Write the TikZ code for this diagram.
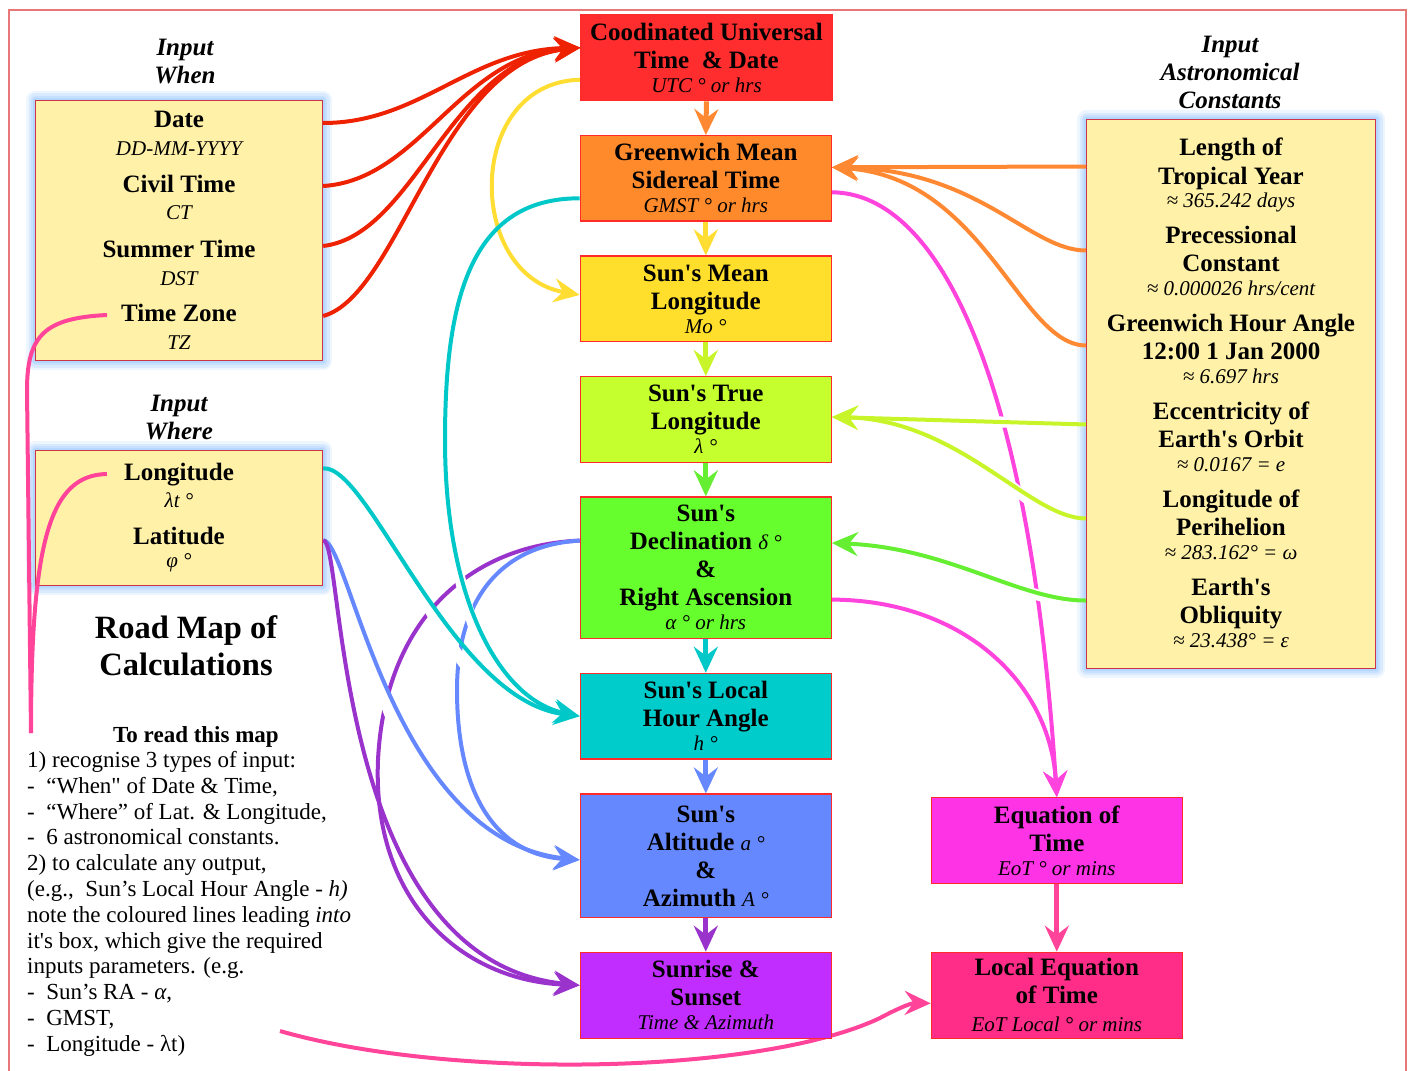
\documentclass[tikz,border=0pt]{standalone}
\usepackage{fontspec}
\setmainfont{Liberation Serif}[Ligatures=TeXOff]
\usetikzlibrary{arrows.meta}
\definecolor{boxedge}{HTML}{FF2B2B}
\definecolor{cRed}{HTML}{FF2D2D}\definecolor{lRed}{HTML}{EE2200}
\definecolor{cOrange}{HTML}{FF8A2B}\definecolor{lOrange}{HTML}{FF8833}
\definecolor{cYellow}{HTML}{FFDF2B}\definecolor{lYellow}{HTML}{FFDD33}
\definecolor{cLime}{HTML}{C5FF2D}\definecolor{lLime}{HTML}{C8F52A}
\definecolor{cGreen}{HTML}{66FF2D}\definecolor{lGreen}{HTML}{66EE33}
\definecolor{cCyan}{HTML}{00CCCC}\definecolor{lCyan}{HTML}{00C8C8}
\definecolor{cBlue}{HTML}{6688FF}\definecolor{lBlue}{HTML}{6688FF}
\definecolor{cPurple}{HTML}{C22DFF}\definecolor{lPurple}{HTML}{9933CC}
\definecolor{cMag}{HTML}{FF33E6}\definecolor{lMag}{HTML}{FF44DD}
\definecolor{cPink}{HTML}{FF2D88}\definecolor{lPink}{HTML}{FF4499}
\definecolor{inFill}{HTML}{FFF2A8}\definecolor{inEdge}{HTML}{CC3344}
\definecolor{glowc}{HTML}{8CC0FF}\definecolor{frameC}{HTML}{E87878}
\newcommand\rmsub[1]{{\normalfont\itshape\fontsize{21}{24}\selectfont #1}}
\pgfdeclarelayer{bg}\pgfdeclarelayer{fg}\pgfsetlayers{bg,main,fg}
\begin{document}
\begin{tikzpicture}[x=1pt,y=-1pt,
 rmBox/.style={draw=boxedge, line width=1.2pt, minimum width=251pt, inner sep=0pt, align=center, font=\bfseries\fontsize{25}{28}\selectfont},
 rmIn/.style={draw=inEdge, line width=1pt, fill=inFill, inner sep=0pt},
 rmLab/.style={inner sep=0pt, text height=17pt, text depth=5pt, font=\bfseries\fontsize{25}{28}\selectfont},
 rmSub/.style={inner sep=0pt, text height=14pt, text depth=4pt, font=\itshape\fontsize{21}{24}\selectfont},
 rmHead/.style={inner sep=0pt, align=center, font=\bfseries\itshape\fontsize{25}{28}\selectfont},
 rmTip/.style={-{Stealth[length=26pt,width=24pt,inset=9pt]}},
 rmLink/.style={line width=4pt, rmTip},
 rmPlain/.style={line width=4pt},
 rmVert/.style={line width=5pt, rmTip},
 rmHalo/.style={draw=white, line width=11pt},
]
\useasboundingbox (0,0) rectangle (1412,1070);
\draw[frameC, line width=1.5pt] (9,1080) -- (9,10) -- (1406,10) -- (1406,1080);

% ---------- calculation boxes ----------
\node[rmBox, fill=cRed, minimum height=86pt] (utc) at (706.5,57.7) {Coodinated Universal\\Time\ \ \& Date\\[-4pt]\rmsub{UTC ° or hrs}};
\node[rmBox, fill=cOrange, minimum height=85.3pt] (gmst) at (705.8,178.3) {Greenwich Mean\\Sidereal Time\\[-4pt]\rmsub{GMST ° or hrs}};
\node[rmBox, fill=cYellow, minimum height=85.7pt] (mean) at (705.8,298.9) {Sun's Mean\\Longitude\\[-4pt]\rmsub{Mo °}};
\node[rmBox, fill=cLime, minimum height=85.6pt] (true) at (705.8,419.5) {Sun's True\\Longitude\\[-4pt]\rmsub{λ °}};
\node[rmBox, fill=cGreen, minimum height=141.3pt] (decl) at (705.8,567.6) {Sun's\\Declination \rmsub{δ °}\\\&\\Right Ascension\\[-4pt]\rmsub{α ° or hrs}};
\node[rmBox, fill=cCyan, minimum height=85.7pt] (lha) at (705.8,716.2) {Sun's Local\\Hour Angle\\[-4pt]\rmsub{h °}};
\node[rmBox, fill=cBlue, minimum height=123.7pt] (alt) at (705.8,855.9) {Sun's\\Altitude \rmsub{a °}\\\&\\Azimuth \rmsub{A °}};
\node[rmBox, fill=cPurple, minimum height=86pt] (sunrise) at (705.8,995.3) {Sunrise \&\\Sunset\\[-4pt]\rmsub{Time \& Azimuth}};
\node[rmBox, fill=cMag, minimum height=85.6pt] (eot) at (1056.8,840.5) {Equation of\\Time\\[-4pt]\rmsub{EoT ° or mins}};
\node[rmBox, fill=cPink, minimum height=86pt] (loceot) at (1056.8,995.3) {Local Equation\\of Time\\[0pt]\rmsub{EoT Local ° or mins}};

% ---------- input boxes ----------
\node[rmIn, minimum width=286.7pt, minimum height=260pt] (when) at (179.3,230.5) {};
\node[rmIn, minimum width=286.7pt, minimum height=134.7pt] (where) at (179.3,518.3) {};
\node[rmIn, minimum width=288.7pt, minimum height=548pt] (consts) at (1231.3,394) {};

\node[rmHead] (hwhen) at (185,62) {Input\\When};
\node[rmHead] (hwhere) at (179,417) {Input\\Where};
\node[rmHead] (hconst) at (1230,72) {Input\\Astronomical\\Constants};

\node[rmLab] (date) at (179,122) {Date};
\node[rmSub] (ddmm) at (179,150) {DD-MM-YYYY};
\node[rmLab] (civil) at (179,186) {Civil Time};
\node[rmSub] (ct) at (179,214) {CT};
\node[rmLab] (summer) at (179,251) {Summer Time};
\node[rmSub] (dst) at (179,280) {DST};
\node[rmLab] (tzone) at (179,315) {Time Zone};
\node[rmSub] (tz) at (179,344) {TZ};

\node[rmLab] (long) at (179,474) {Longitude};
\node[rmSub] (lt) at (179,502) {λt °};
\node[rmLab] (lat) at (179,538) {Latitude};
\node[rmSub] (phi) at (179,562) {φ °};

\node[rmLab] (k1) at (1231,149) {Length of};
\node[rmLab] (k2) at (1231,178) {Tropical Year};
\node[rmSub] (k3) at (1231,202) {≈ 365.242 days};
\node[rmLab] (k4) at (1231,237) {Precessional};
\node[rmLab] (k5) at (1231,265) {Constant};
\node[rmSub] (k6) at (1231,290) {≈ 0.000026 hrs/cent};
\node[rmLab] (k7) at (1231,325) {Greenwich Hour Angle};
\node[rmLab] (k8) at (1231,353) {12:00 1 Jan 2000};
\node[rmSub] (k9) at (1231,378) {≈ 6.697 hrs};
\node[rmLab] (k10) at (1231,413) {Eccentricity of};
\node[rmLab] (k11) at (1231,441) {Earth's Orbit};
\node[rmSub] (k12) at (1231,466) {≈ 0.0167 = e};
\node[rmLab] (k13) at (1231,501) {Longitude of};
\node[rmLab] (k14) at (1231,529) {Perihelion};
\node[rmSub] (k15) at (1231,554) {≈ 283.162° = ω};
\node[rmLab] (k16) at (1231,589) {Earth's};
\node[rmLab] (k17) at (1231,617) {Obliquity};
\node[rmSub] (k18) at (1231,642) {≈ 23.438° = ε};

\node[inner sep=0pt, align=center, font=\bfseries\fontsize{32.5}{37}\selectfont] (title) at (186,646) {Road Map of\\Calculations};
\node[inner sep=0pt, font=\bfseries\fontsize{23}{26}\selectfont] (readhd) at (196,737) {To read this map};
\node[inner sep=0pt, anchor=north west, align=left, font=\fontsize{23}{25.8}\selectfont] (readtx) at (27,751) {1) recognise 3 types of input:\\
-~~“When" of Date \& Time,\\
-~~“Where” of Lat. \& Longitude,\\
-~~6 astronomical constants.\\
2) to calculate any output,\\
(e.g.,~~Sun’s Local Hour Angle - \textit{h)}\\
note the coloured lines leading \textit{into}\\
it's box, which give the required\\
inputs parameters. (e.g.\\
-~~Sun’s RA - \textit{α},\\
-~~GMST,\\
-~~Longitude - λt)};

\coordinate (pinkA) at (31,733);
\coordinate (pinkB) at (280,1031);

% ---------- connectors ----------
\begin{pgfonlayer}{bg}
\foreach \w/\o in {18/0.16,13/0.2,8/0.24,4/0.3}{
  \draw[glowc, line width=\w pt, opacity=\o, line join=round] (when.north west) rectangle (when.south east);
  \draw[glowc, line width=\w pt, opacity=\o, line join=round] (where.north west) rectangle (where.south east);
  \draw[glowc, line width=\w pt, opacity=\o, line join=round] (consts.north west) rectangle (consts.south east);
}
% red: When -> UTC
\draw[rmLink, lRed] ([yshift=-23pt]when.north east) .. controls (420,123) and (470,50) .. ([yshift=10pt]utc.west);
\draw[rmLink, lRed] ([yshift=-86pt]when.north east) .. controls (420,180) and (460,55) .. ([yshift=10pt]utc.west);
\draw[rmLink, lRed] ([yshift=-146pt]when.north east) .. controls (415,235) and (450,60) .. ([yshift=10pt]utc.west);
\draw[rmLink, lRed] ([yshift=-216pt]when.north east) .. controls (400,295) and (440,62) .. ([yshift=10pt]utc.west);
% yellow UTC -> Mean
\draw[rmLink, lYellow] ([yshift=-22pt]utc.west) .. controls (465,82) and (465,275) .. ([yshift=4pt]mean.west);
% orange constants -> GMST
\draw[rmLink, lOrange] ([yshift=-47pt]consts.north west) -- ([yshift=11pt]gmst.east);
\draw[rmLink, lOrange] ([yshift=-131pt]consts.north west) .. controls (1030,251) and (980,170) .. ([yshift=11pt]gmst.east);
\draw[rmLink, lOrange] ([yshift=-226pt]consts.north west) .. controls (1020,346) and (985,178) .. ([yshift=11pt]gmst.east);
% magenta -> EoT
\draw[rmLink, lMag] ([yshift=-14pt]gmst.east) .. controls (940,193) and (1030,380) .. (eot.north);
\draw[rmLink, lMag] ([yshift=-32pt]decl.east) .. controls (960,600) and (1050,680) .. (eot.north);
% purple / blue from Decl
\draw[rmLink, lPurple] ([yshift=27pt]decl.west) .. controls (470,545) and (385,620) .. (378,760) .. controls (372,900) and (460,980) .. ([yshift=10pt]sunrise.west);
\draw[rmLink, lBlue] ([yshift=27pt]decl.west) .. controls (500,545) and (457,600) .. (457,690) .. controls (457,800) and (500,855) .. ([yshift=-4pt]alt.west);
% halos
\draw[rmHalo, shorten <=110pt, shorten >=60pt] ([yshift=-20pt]gmst.west) .. controls (470,198) and (445,300) .. (445,440) .. controls (445,600) and (500,700) .. (lha.west);
\draw[rmHalo, shorten <=20pt, shorten >=60pt] ([yshift=50pt]where.east) .. controls (370,465) and (450,700) .. (lha.west);
\draw[rmHalo, shorten <=10pt, shorten >=80pt] ([yshift=-22pt]where.east) .. controls (350,540) and (390,840) .. ([yshift=-4pt]alt.west);
\draw[rmHalo, shorten <=20pt, shorten >=60pt] ([yshift=-305pt]consts.north west) -- ([yshift=2.5pt]true.east);
\draw[rmHalo, shorten <=20pt, shorten >=60pt] ([yshift=-399pt]consts.north west) .. controls (1030,519) and (960,420) .. ([yshift=2.5pt]true.east);
\draw[rmHalo, shorten <=15pt, shorten >=60pt] ([yshift=-481pt]consts.north west) .. controls (1020,601) and (950,548) .. ([yshift=24.6pt]decl.east);
% cyan
\draw[rmLink, lCyan] ([yshift=-20pt]gmst.west) .. controls (470,198) and (445,300) .. (445,440) .. controls (445,600) and (500,700) .. (lha.west);
\draw[rmLink, lCyan] ([yshift=50pt]where.east) .. controls (370,465) and (450,700) .. (lha.west);
% blue / purple from Where
\draw[rmLink, lBlue] ([yshift=-22pt]where.east) .. controls (350,540) and (390,840) .. ([yshift=-4pt]alt.west);
\draw[rmLink, lPurple] ([yshift=-22pt]where.east) .. controls (345,540) and (330,960) .. ([yshift=10pt]sunrise.west);
% lime / green
\draw[rmLink, lLime] ([yshift=-305pt]consts.north west) -- ([yshift=2.5pt]true.east);
\draw[rmLink, lLime] ([yshift=-399pt]consts.north west) .. controls (1030,519) and (960,420) .. ([yshift=2.5pt]true.east);
\draw[rmLink, lGreen] ([yshift=-481pt]consts.north west) .. controls (1020,601) and (950,548) .. ([yshift=24.6pt]decl.east);
% vertical chain
\draw[rmVert, lOrange] (utc.south) -- (gmst.north);
\draw[rmVert, lYellow] (gmst.south) -- (mean.north);
\draw[rmVert, lLime] (mean.south) -- (true.north);
\draw[rmVert, lGreen] (true.south) -- (decl.north);
\draw[rmVert, lCyan] (decl.south) -- (lha.north);
\draw[rmVert, lBlue] (lha.south) -- (alt.north);
\draw[rmVert, lPurple] (alt.south) -- (sunrise.north);
\draw[rmVert, lPink] (eot.south) -- (loceot.north);
% pink bottom
\draw[rmLink, lPink] (pinkB) .. controls (450,1080) and (760,1075) .. (880,1018) .. controls (895,1010) and (910,1003) .. ([yshift=-8pt]loceot.west);
\end{pgfonlayer}

\begin{pgfonlayer}{fg}
\draw[rmPlain, lPink] ([xshift=-14pt]tzone.west) .. controls (45,318) and (27,335) .. (27,390) -- (pinkA);
\draw[rmPlain, lPink] ([xshift=-17pt]long.west) .. controls (50,475) and (31,540) .. (pinkA);
\end{pgfonlayer}
\end{tikzpicture}
\end{document}
